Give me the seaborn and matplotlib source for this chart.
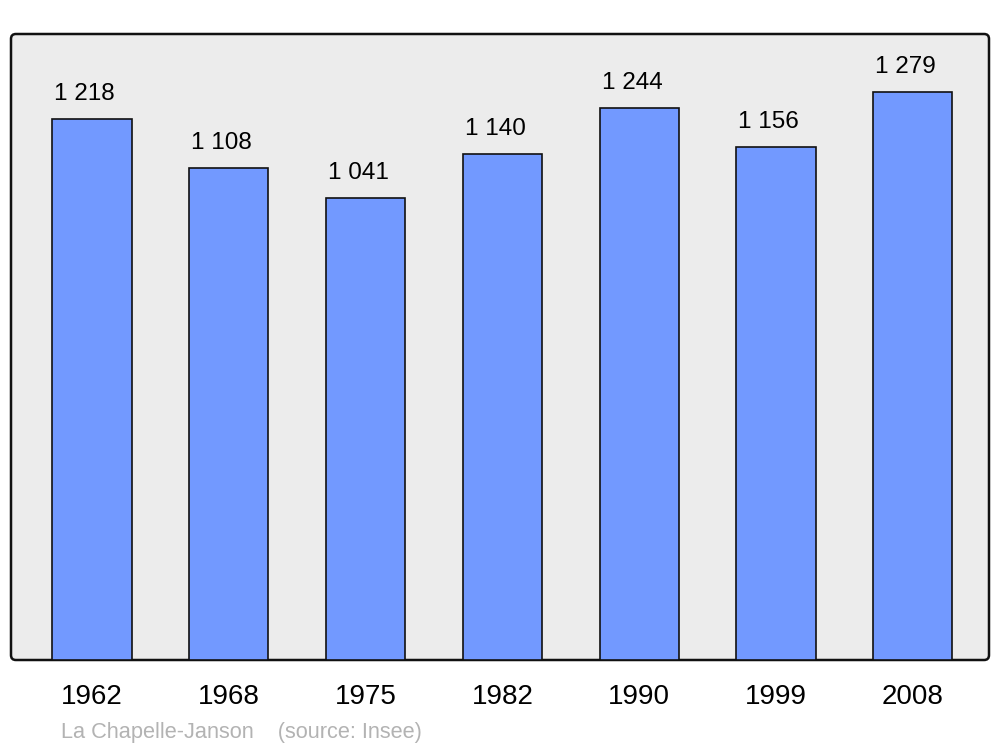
import matplotlib
matplotlib.use("Agg")
import matplotlib.pyplot as plt
import seaborn as sns
import pandas as pd
from matplotlib.patches import FancyBboxPatch

years = ["1962", "1968", "1975", "1982", "1990", "1999", "2008"]
population = [1218, 1108, 1041, 1140, 1244, 1156, 1279]
value_labels = ["1 218", "1 108", "1 041", "1 140", "1 244", "1 156", "1 279"]
source_text = "La Chapelle-Janson    (source: Insee)"

sns.set_theme(style="white")
plt.rcParams["font.family"] = ["Liberation Sans", "DejaVu Sans"]

df = pd.DataFrame({"year": years, "population": population})

fig = plt.figure(figsize=(10, 7.47), dpi=100)
ax = fig.add_axes([0.011, 87 / 747, 0.978, 626 / 747])
ax.set_facecolor("none")

bg = FancyBboxPatch((0, 0), 1, 1, boxstyle="round,pad=0,rounding_size=0.005",
                    transform=ax.transAxes, facecolor="#ececec", edgecolor="#111111",
                    linewidth=1.8, zorder=0, mutation_aspect=978 / 626, clip_on=False)
ax.add_patch(bg)

sns.barplot(data=df, x="year", y="population", color="#7299ff", saturation=1,
            width=0.58, edgecolor="#111111", linewidth=1.2, ax=ax, zorder=2)

ax.set_xlim(-0.592, 6.557)
ax.set_ylim(0, 1410)
for s in ax.spines.values():
    s.set_visible(False)
ax.set_xlabel("")
ax.set_ylabel("")
ax.set_yticks([])
ax.tick_params(axis="x", length=0, pad=17.6, labelsize=20, labelcolor="black")
for lbl in ax.get_xticklabels():
    lbl.set_x(lbl.get_position()[0])

for i, (v, lab) in enumerate(zip(population, value_labels)):
    ax.annotate(lab, xy=(i - 0.29, v), xytext=(2 * 0.72, 19 * 0.72),
                textcoords="offset points", ha="left", va="baseline",
                fontsize=17.5, color="black", zorder=3)

fig.text(0.061, (747 - 738) / 747, source_text, fontsize=15.7, color="#b3b3b3",
         ha="left", va="baseline")

fig.savefig("out.png", dpi=100, facecolor="white")
